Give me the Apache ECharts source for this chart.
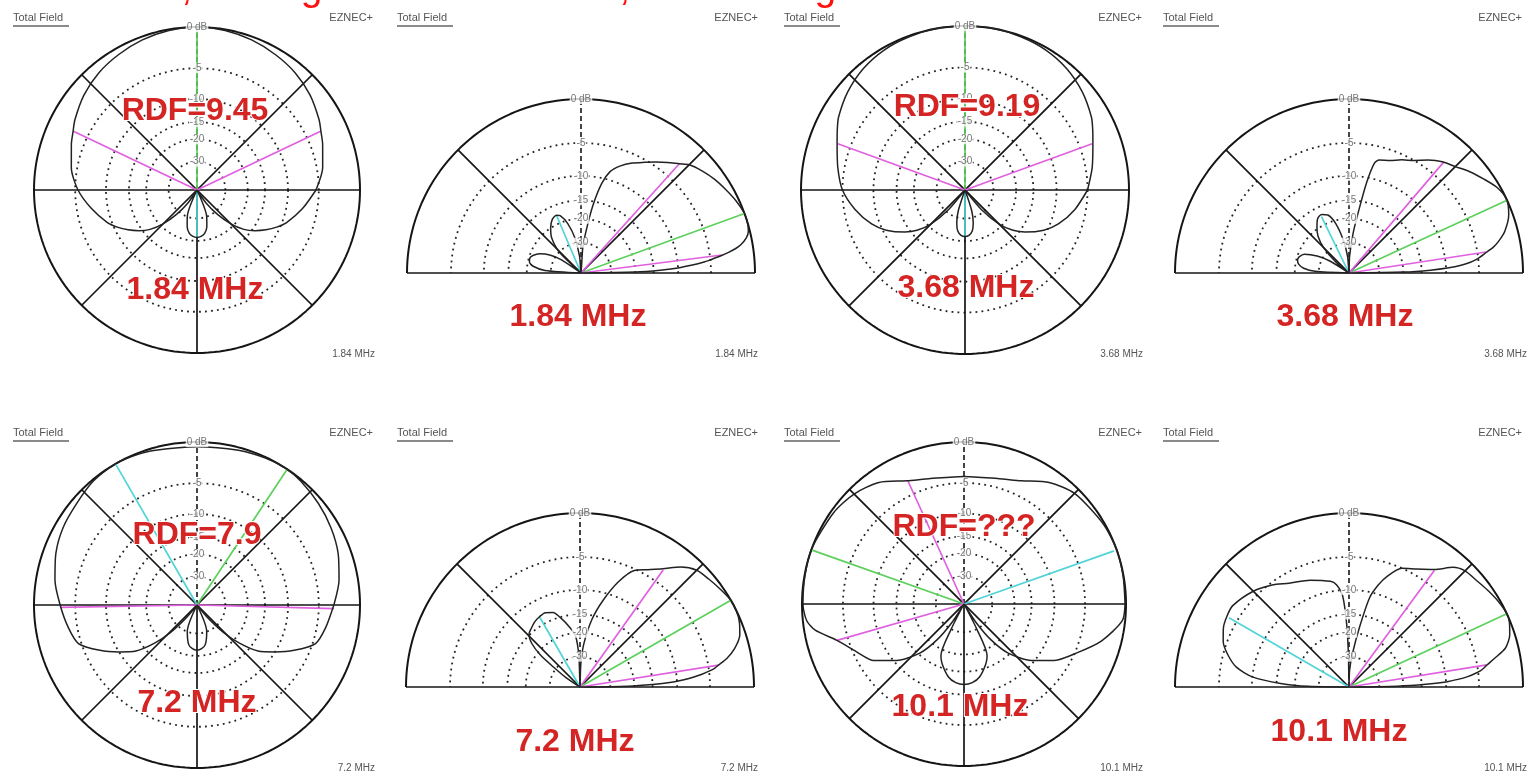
<!DOCTYPE html>
<html><head><meta charset="utf-8">
<script src="https://cdn.jsdelivr.net/npm/echarts@6/dist/echarts.min.js"></script>
<style>html,body{margin:0;padding:0;background:#fff;overflow:hidden}#c{width:1529px;height:776px}</style>
</head><body><div id="c"></div>
<script>
// ---------- text ----------
const freqLabels = ['1.84 MHz', '3.68 MHz', '7.2 MHz', '10.1 MHz'];
const rdfLabels = ['RDF=9.45', 'RDF=9.19', 'RDF=7.9', 'RDF=???'];
const captionText = 'Take-off angle is 20 degrees at 1.84 MHz, 25 degrees at 3.68 MHz, and 30 degrees at 7.2 MHz';
const zeroLabel = '0 dB';
const ringDb = [-5, -10, -15, -20, -30];
const ringLabels = ['-5', '-10', '-15', '-20', '-30'];

// ---------- patterns [angle deg, dB] ----------
const az184 = [[0,-5.4],[10,-4.2],[20,-3.4],[25,-3.0],[30,-2.5],[40,-1.7],[50,-1.1],[60,-0.7],[70,-0.35],[80,-0.1],[90,0],[100,-0.1],[110,-0.35],[120,-0.7],[130,-1.1],[140,-1.7],[150,-2.5],[155,-3.0],[160,-3.4],[170,-4.2],[180,-5.4],[190,-7.2],[200,-9.2],[205,-10.6],[210,-12.3],[215,-14.3],[220,-16.8],[225,-21],[230,-28],[235,-40],[240,-99],[250,-30],[255,-25],[260,-22.5],[265,-21.5],[270,-21.2],[275,-21.5],[280,-22.5],[285,-25],[290,-30],[300,-99],[305,-40],[310,-28],[315,-21],[320,-16.8],[325,-14.3],[330,-12.3],[335,-10.6],[340,-9.2],[350,-7.2],[360,-5.4]];
const el184 = [[0,-99],[1,-20],[2,-13.5],[3,-10],[4,-7.8],[5,-6],[6,-4.8],[7,-3.6],[8,-2.6],[9,-1.8],[10,-1.2],[12,-0.5],[14,-0.15],[17,0],[20,0],[25,-0.3],[30,-0.7],[35,-1.1],[40,-1.6],[45,-2.2],[48,-2.9],[52,-3.7],[56,-4.5],[60,-5.3],[65,-6.2],[70,-7.3],[74,-8.6],[77,-11],[80,-16],[83,-24],[86,-33],[89,-99],[95,-40],[100,-27],[105,-21],[110,-18],[113,-17.5],[118,-18],[124,-20],[130,-23],[136,-30],[142,-99],[146,-34],[150,-27],[155,-23],[160,-21],[164,-20.3],[168,-20.5],[172,-22],[176,-27],[180,-99]];
const az368 = [[0,-5.0],[10,-4.1],[20,-3.2],[25,-2.6],[30,-2.0],[40,-1.2],[50,-0.6],[60,-0.25],[70,-0.1],[80,0],[90,0],[100,0],[110,-0.1],[120,-0.25],[130,-0.6],[140,-1.2],[150,-2.0],[155,-2.6],[160,-3.2],[170,-4.1],[180,-5.0],[190,-6.6],[200,-8.6],[207,-10.6],[215,-13.8],[220,-16.5],[225,-21],[230,-32],[235,-99],[252,-35],[256,-27],[260,-23.5],[265,-22],[270,-21.6],[275,-22],[280,-23.5],[284,-27],[288,-35],[305,-99],[310,-32],[315,-21],[320,-16.5],[325,-13.8],[333,-10.6],[340,-8.6],[350,-6.6],[360,-5.0]];
const el368 = [[0,-99],[1,-20],[2,-13],[3,-9.5],[4,-7.5],[5,-6.2],[6,-5.3],[7,-4.7],[8.5,-3.9],[10,-3.0],[12,-2.2],[15,-1.3],[20,-0.4],[25,0],[30,-0.3],[35,-1.0],[40,-1.7],[45,-2.5],[50,-3.1],[55,-4.0],[60,-5.0],[65,-5.7],[70,-6.4],[75,-6.8],[77,-7.5],[79,-11],[81,-17],[84,-25],[88,-40],[90,-99],[95,-40],[100,-28],[105,-21],[110,-17.8],[115,-17],[120,-17.5],[125,-19.5],[130,-22],[135,-27],[140,-40],[145,-99],[148,-35],[152,-27],[157,-22],[162,-20.6],[166,-20.4],[170,-21],[174,-23],[177,-28],[180,-99]];
const az72 = [[0,-3.0],[10,-2.1],[20,-1.4],[30,-0.9],[40,-0.5],[50,-0.15],[57,0],[65,-0.1],[75,-0.3],[90,-0.5],[105,-0.3],[113,-0.1],[120,0],[130,-0.15],[140,-0.6],[150,-0.9],[160,-1.4],[170,-2.1],[180,-3.0],[190,-3.8],[198,-4.6],[205,-7.2],[211,-10],[217,-13],[222,-18],[226,-25],[230,-40],[236,-99],[250,-30],[258,-24],[264,-22.5],[270,-22],[276,-22.5],[282,-24],[290,-30],[304,-99],[310,-40],[314,-25],[318,-18],[323,-13],[329,-10],[335,-7.2],[342,-4.6],[350,-3.8],[360,-3.0]];
const el72 = [[0,-99],[1,-22],[2,-15],[3,-11],[4,-8.8],[5,-7.2],[6,-6],[7,-5],[8,-4.2],[9,-3.7],[11,-2.6],[14,-1.5],[18,-0.6],[22,-0.2],[26,0],[30,0],[35,-0.3],[40,-0.6],[45,-0.9],[50,-1.8],[55,-3.2],[60,-4.3],[65,-5.2],[70,-7.6],[75,-11.3],[80,-16],[85,-24],[88,-35],[90,-99],[92,-30],[95,-21],[100,-18],[105,-15.5],[110,-13.5],[115,-12.9],[120,-13.1],[125,-13.5],[130,-14.2],[134,-14.8],[138,-17],[141,-21],[143,-28],[146,-40],[150,-99],[180,-99]];
const az101 = [[0,-0.1],[10,-0.05],[20,0],[30,-0.15],[45,-0.6],[55,-1.5],[65,-3.0],[75,-3.8],[90,-4.1],[105,-3.8],[115,-3.0],[125,-1.5],[135,-0.7],[145,-0.3],[160,0],[170,-0.05],[180,-0.1],[186,-0.4],[190,-1.2],[196,-3.5],[204,-5.5],[212,-7.2],[220,-10.5],[228,-15.4],[233,-22],[237,-35],[240,-99],[243,-30],[246,-18],[250,-16],[258,-13.3],[264,-12.3],[270,-12],[276,-12.3],[282,-13.3],[290,-16],[294,-18],[297,-30],[300,-99],[303,-35],[307,-22],[312,-15.4],[320,-10.5],[328,-7.2],[337,-4.6],[345,-2.2],[354,-0.3],[360,-0.1]];
const el101 = [[0,-99],[1,-22],[2,-14],[3,-10],[4,-8],[5,-6.5],[6,-5.5],[7,-4.7],[8,-4.2],[9,-3.8],[11,-2.8],[14,-1.3],[18,-0.5],[22,-0.1],[25,0],[30,-0.2],[35,-0.5],[40,-0.8],[45,-1.0],[49,-1.6],[54,-3.1],[60,-4.2],[66,-5.0],[71,-6.8],[74,-8.5],[77,-11],[80,-18],[84,-28],[88,-40],[90,-99],[91,-30],[92,-18],[94,-11],[97,-9],[100,-8.3],[110,-7.3],[120,-6.4],[127,-5.3],[135,-4.3],[145,-3.5],[150,-3.6],[155,-3.9],[160,-4.5],[165,-5.6],[170,-7.2],[174,-10],[177,-16],[179,-25],[180,-99]];

// ---------- marker rays [angle, dB, kind] ----------
const raysAz184 = [[90,0,'max'],[25.4,-3,'bw'],[154.6,-3,'bw'],[270,-21.2,'alt']];
const raysEl184 = [[20,0,'max'],[48,-2.9,'bw'],[7.3,-3.5,'bw'],[113,-17.5,'alt']];
const raysAz368 = [[90,0,'max'],[20,-3.3,'bw'],[160,-3.3,'bw'],[270,-21.6,'alt']];
const raysEl368 = [[24.7,0,'max'],[49.5,-3.0,'bw'],[8.7,-3.9,'bw'],[116,-17.5,'alt']];
const raysAz72 = [[56.4,0,'max'],[120,0,'alt'],[358.5,-3,'bw'],[181,-3,'bw']];
const raysEl72 = [[29.9,0,'max'],[54.6,-3.3,'bw'],[9,-3.7,'bw'],[120,-13.1,'alt']];
const raysAz101 = [[160.5,0,'max'],[19.5,-0.3,'alt'],[114.5,-3,'bw'],[196,-3.5,'bw']];
const raysEl101 = [[24.9,0,'max'],[53.8,-3.2,'bw'],[9.1,-3.8,'bw'],[150,-3.9,'alt']];

// ---------- layout ----------
const rayColors = {max:'#5cd05c', bw:'#e060e0', alt:'#50d4d8'};
const FONT = '"Liberation Sans", Arial, sans-serif';
const RMAX = 1.04;
const panels = [
  {kind:'az', center:[197,190], R:163, pat:az184, rays:raysAz184, f:0, rdf:[195,111], big:[195,290], hx:13, hy:18, ex:373, sx:375, sy:354},
  {kind:'el', center:[581,273], R:174, pat:el184, rays:raysEl184, f:0, big:[578,317], hx:397, hy:18, ex:758, sx:758, sy:354},
  {kind:'az', center:[965,190], R:164, pat:az368, rays:raysAz368, f:1, rdf:[967,107], big:[966,288], hx:784, hy:18, ex:1142, sx:1143, sy:354},
  {kind:'el', center:[1349,273], R:174, pat:el368, rays:raysEl368, f:1, big:[1345,317], hx:1163, hy:18, ex:1522, sx:1527, sy:354},
  {kind:'az', center:[197,605], R:163, pat:az72, rays:raysAz72, f:2, rdf:[197,535], big:[197,703], hx:13, hy:433, ex:373, sx:375, sy:768},
  {kind:'el', center:[580,687], R:174, pat:el72, rays:raysEl72, f:2, big:[575,742], hx:397, hy:433, ex:758, sx:758, sy:768},
  {kind:'az', center:[964,604], R:162, pat:az101, rays:raysAz101, f:3, rdf:[964,527], big:[960,707], hx:784, hy:433, ex:1142, sx:1143, sy:768},
  {kind:'el', center:[1349,687], R:174, pat:el101, rays:raysEl101, f:3, big:[1339,732], hx:1163, hy:433, ex:1522, sx:1527, sy:768}
];

const arrl = db => db <= -60 ? 0 : Math.pow(0.89, -db / 2);
function arc(r, a0, a1) { const out = []; for (let a = a0; a <= a1 + 1e-9; a += 2) out.push([r, a]); return out; }
function line(i, data, style, z, extra) {
  return Object.assign({type:'line', coordinateSystem:'polar', polarIndex:i, data, symbol:'none', silent:true,
    animation:false, clip:false, lineStyle:style, z}, extra || {});
}

const series = [];
const graphic = [];
panels.forEach((p, i) => {
  const full = p.kind === 'az';
  const a1 = full ? 360 : 180;
  const dark = '#151515';
  ringDb.forEach(db => series.push(line(i, arc(arrl(db), 0, a1), {color:'#222', width:1.8, type:[1.8,4.2]}, 1)));
  series.push(line(i, arc(1, 0, a1), {color:dark, width:2}, 2));
  const spokes = full ? [[180,0],[45,225],[135,315]] : [[180,0]];
  spokes.forEach(s => series.push(line(i, [[1,s[0]],[1,s[1]]], {color:dark, width:1.7}, 2)));
  const radial = full ? [270] : [45,135];
  radial.forEach(a => series.push(line(i, [[0,a],[1,a]], {color:dark, width:1.7}, 2)));
  series.push(line(i, [[0,90],[1,90]], {color:dark, width:1.6, type:[5,3]}, 2));
  p.rays.forEach(r => series.push(line(i, [[0,r[0]],[arrl(r[1]),r[0]]], {color:rayColors[r[2]], width:1.7}, 3)));
  series.push(line(i, p.pat.map(d => [arrl(d[1]), d[0]]), {color:'#222', width:1.5}, 4, {smooth:0.25}));
  series.push({type:'scatter', coordinateSystem:'polar', polarIndex:i, symbol:'circle', symbolSize:1, silent:true, animation:false,
    itemStyle:{color:'rgba(0,0,0,0)'}, z:6,
    data:[{value:[1,90], name:zeroLabel}].concat(ringDb.map((d,k) => ({value:[arrl(d),90], name:ringLabels[k]}))),
    label:{show:true, position:'inside', formatter: q => q.name, color:'#555', fontSize:10, fontFamily:FONT,
      backgroundColor:'#fff', padding:[0,1]}});

  // header / footer texts
  graphic.push({type:'text', left:p.hx, top:p.hy - 6, z:10, style:{text:'Total Field', fill:'#555', font:'11px ' + FONT}});
  graphic.push({type:'rect', shape:{x:p.hx, y:p.hy + 7, width:56, height:2}, style:{fill:'#8a8a8a'}, z:10});
  graphic.push({type:'text', x:p.ex, y:p.hy, z:10, style:{text:'EZNEC+', fill:'#555', font:'11px ' + FONT, textAlign:'right', textVerticalAlign:'middle'}});
  graphic.push({type:'text', x:p.sx, y:p.sy, z:10, style:{text:freqLabels[p.f], fill:'#555', font:'10px ' + FONT, textAlign:'right', textVerticalAlign:'middle'}});
  const bigStyle = {fill:'#d42424', font:'bold 32px ' + FONT, textAlign:'center', textVerticalAlign:'middle', stroke:'#fff', lineWidth:2, strokeFirst:true};
  if (p.rdf) graphic.push({type:'text', x:p.rdf[0], y:p.rdf[1], z:20, style:Object.assign({text:rdfLabels[p.f]}, bigStyle)});
  graphic.push({type:'text', x:p.big[0], y:p.big[1], z:20, style:Object.assign({text:freqLabels[p.f]}, bigStyle)});
});
graphic.push({type:'text', x:-529, y:-11, z:20, style:{text:captionText, fill:'#ff1010', font:'39px ' + FONT, textAlign:'left', textVerticalAlign:'middle'}});

const chart = echarts.init(document.getElementById('c'));
chart.setOption({
  backgroundColor:'#fff',
  animation:false,
  polar: panels.map(p => ({center:p.center, radius:p.R * RMAX})),
  angleAxis: panels.map((p,i) => ({polarIndex:i, type:'value', min:0, max:360, startAngle:0, clockwise:false, show:false,
    axisLine:{show:false}, axisTick:{show:false}, axisLabel:{show:false}, splitLine:{show:false}})),
  radiusAxis: panels.map((p,i) => ({polarIndex:i, type:'value', min:0, max:RMAX, show:false,
    axisLine:{show:false}, axisTick:{show:false}, axisLabel:{show:false}, splitLine:{show:false}})),
  series,
  graphic
});
</script>
</body></html>
